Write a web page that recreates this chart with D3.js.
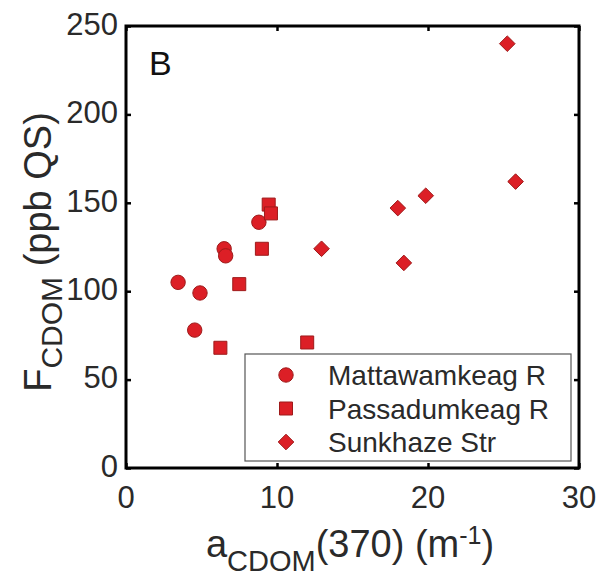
<!DOCTYPE html>
<html>
<head>
<meta charset="utf-8">
<script src="https://cdn.jsdelivr.net/npm/d3@7"></script>
<style>
  html, body { margin: 0; padding: 0; background: #fff; }
  svg { display: block; font-family: "Liberation Sans", Arial, Helvetica, sans-serif; }
</style>
</head>
<body>
<svg id="chart" width="600" height="581"></svg>
<script>
// ---- data ----
const seriesNames = ["Mattawamkeag R", "Passadumkeag R", "Sunkhaze Str"];
const mattawamkeagX = [3.45, 4.9, 4.55, 6.5, 6.6, 8.8];
const mattawamkeagY = [105, 99, 78, 124, 120, 139];
const passadumkeagX = [9.45, 9.6, 9.0, 7.5, 6.25, 12.0];
const passadumkeagY = [149, 144, 124, 104, 68, 71];
const sunkhazeX = [12.95, 18.0, 18.4, 19.85, 25.25, 25.8];
const sunkhazeY = [124, 147, 116, 154, 240, 162];
const xTicks = [0, 10, 20, 30];
const yTicks = [0, 50, 100, 150, 200, 250];

// ---- layout ----
const svg = d3.select("#chart");
const L = 126, R = 579, T = 26, B = 468;
const x = d3.scaleLinear().domain([0, 30]).range([L, R]);
const y = d3.scaleLinear().domain([0, 250]).range([B, T]);

const fillC = "#dc1f26", strokeC = "#9e1a1a";

const diamond = {
  draw(ctx, size) {
    const r = Math.sqrt(size / 2);
    ctx.moveTo(0, -r); ctx.lineTo(r, 0); ctx.lineTo(0, r); ctx.lineTo(-r, 0); ctx.closePath();
  }
};
const symbols = [
  d3.symbol().type(d3.symbolCircle).size(Math.PI * 7.2 * 7.2),
  d3.symbol().type(d3.symbolSquare).size(13 * 13),
  d3.symbol().type(diamond).size(2 * 7.8 * 7.8)
];

const series = [
  mattawamkeagX.map((v, i) => [v, mattawamkeagY[i]]),
  passadumkeagX.map((v, i) => [v, passadumkeagY[i]]),
  sunkhazeX.map((v, i) => [v, sunkhazeY[i]])
];

// ticks (inward) via axes
const tickLen = 5;
function styleAxis(g) {
  g.select(".domain").remove();
  g.selectAll(".tick line").attr("stroke", "#000").attr("stroke-width", 2.5);
  g.selectAll(".tick text").remove();
}
svg.append("g").attr("transform", `translate(0,${B})`)
  .call(d3.axisBottom(x).tickValues(xTicks).tickSize(-tickLen)).call(styleAxis);
svg.append("g").attr("transform", `translate(0,${T})`)
  .call(d3.axisTop(x).tickValues(xTicks).tickSize(-tickLen)).call(styleAxis);
svg.append("g").attr("transform", `translate(${L},0)`)
  .call(d3.axisLeft(y).tickValues(yTicks).tickSize(-tickLen)).call(styleAxis);
svg.append("g").attr("transform", `translate(${R},0)`)
  .call(d3.axisRight(y).tickValues(yTicks).tickSize(-tickLen)).call(styleAxis);

// tick labels
const tickFont = 31;
svg.append("g").selectAll("text").data(xTicks).join("text")
  .attr("x", d => x(d)).attr("y", B + 40)
  .attr("text-anchor", "middle").attr("font-size", tickFont).attr("fill", "#2a2a2a")
  .text(d => d);
svg.append("g").selectAll("text").data(yTicks).join("text")
  .attr("x", L - 8).attr("y", d => y(d) - 2)
  .attr("dy", "0.35em")
  .attr("text-anchor", "end").attr("font-size", tickFont).attr("fill", "#2a2a2a")
  .text(d => d);

// points
series.forEach((pts, si) => {
  svg.append("g").selectAll("path").data(pts).join("path")
    .attr("transform", d => `translate(${x(d[0])},${y(d[1])})`)
    .attr("d", symbols[si]())
    .attr("fill", fillC).attr("stroke", strokeC).attr("stroke-width", 1);
});

// legend
const lg = svg.append("g");
lg.append("rect").attr("x", 245).attr("y", 354).attr("width", 326).attr("height", 107)
  .attr("fill", "#fff").attr("stroke", "#555").attr("stroke-width", 1.2);
seriesNames.forEach((name, i) => {
  const cy = 375 + i * 33.5;
  lg.append("path").attr("transform", `translate(286,${cy})`)
    .attr("d", symbols[i]())
    .attr("fill", fillC).attr("stroke", strokeC).attr("stroke-width", 1);
  lg.append("text").attr("x", 328).attr("y", cy).attr("dy", "0.36em")
    .attr("font-size", 28).attr("fill", "#2a2a2a").text(name);
});

// frame
svg.append("rect").attr("x", L).attr("y", T).attr("width", R - L).attr("height", B - T)
  .attr("fill", "none").attr("stroke", "#000").attr("stroke-width", 3);

// panel label
svg.append("text").attr("x", 149).attr("y", 75).attr("font-size", 34).attr("fill", "#111").text("B");

// x axis label
const xl = svg.append("text").attr("x", 350).attr("y", 557)
  .attr("text-anchor", "middle").attr("font-size", 38).attr("fill", "#2a2a2a");
xl.append("tspan").text("a");
xl.append("tspan").attr("font-size", 29).attr("dy", 14).text("CDOM");
xl.append("tspan").attr("dy", -14).text("(370) (m");
xl.append("tspan").attr("font-size", 25).attr("dy", -13).text("-1");
xl.append("tspan").attr("dy", 13).text(")");

// y axis label
const yl = svg.append("text").attr("transform", `translate(51,252) rotate(-90)`)
  .attr("text-anchor", "middle").attr("font-size", 38).attr("fill", "#2a2a2a");
yl.append("tspan").text("F");
yl.append("tspan").attr("font-size", 30).attr("dy", 11).text("CDOM");
yl.append("tspan").attr("dy", -11).text(" (ppb QS)");
</script>
</body>
</html>
